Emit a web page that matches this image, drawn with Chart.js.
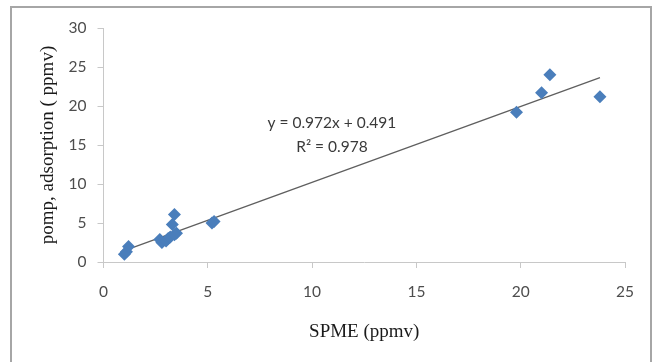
<!DOCTYPE html>
<html>
<head>
<meta charset="utf-8">
<script src="https://cdn.jsdelivr.net/npm/chart.js@4.4.1/dist/chart.umd.min.js"></script>
<style>
html,body{margin:0;padding:0;background:#fff;}
#wrap{position:relative;width:655px;height:362px;}
canvas{display:block;}
</style>
</head>
<body>
<div id="wrap"><canvas id="c" width="655" height="362"></canvas></div>
<script>
// ---- data ----
const spme = [1.0, 1.1, 1.2, 2.7, 2.8, 3.0, 3.1, 3.2, 3.3, 3.4, 3.5, 3.4, 5.2, 5.3, 19.8, 21.0, 21.4, 23.8];
const pomp = [1.0, 1.3, 2.0, 2.9, 2.5, 2.7, 3.0, 3.2, 4.8, 6.1, 3.7, 3.5, 5.0, 5.2, 19.2, 21.7, 24.0, 21.2];
const trendSlope = 0.972;
const trendIntercept = 0.491;
const equationLines = ["y = 0.972x + 0.491", "R\u00B2 = 0.978"];
const xTitle = "SPME (ppmv)";
const yTitle = "pomp, adsorption ( ppmv)";

const points = spme.map((x, i) => ({x: x, y: pomp[i]}));
const xMin = Math.min(...spme), xMax = Math.max(...spme);
const trend = [xMin, xMax].map(x => ({x: x, y: trendSlope * x + trendIntercept}));

const frame = {
  id: 'frame',
  beforeDraw(chart) {
    const ctx = chart.ctx;
    ctx.save();
    ctx.strokeStyle = '#a6a6a6';
    ctx.lineWidth = 2;
    ctx.beginPath();
    ctx.moveTo(11, 362);
    ctx.lineTo(11, 7);
    ctx.lineTo(651, 7);
    ctx.lineTo(651, 362);
    ctx.stroke();
    ctx.restore();
  }
};

const eqLabel = {
  id: 'eqLabel',
  afterDatasetsDraw(chart) {
    const ctx = chart.ctx;
    const xs = chart.scales.x, ys = chart.scales.y;
    const cx = xs.getPixelForValue(10.95);
    const cy = ys.getPixelForValue(17.8);
    ctx.save();
    ctx.fillStyle = '#3a3a3a';
    ctx.font = '15.5px Lato, "Open Sans", sans-serif';
    ctx.textAlign = 'center';
    ctx.textBaseline = 'middle';
    ctx.fillText(equationLines[0], cx, cy);
    ctx.fillText(equationLines[1], cx, cy + 24);
    ctx.restore();
  }
};

new Chart(document.getElementById('c'), {
  type: 'scatter',
  data: {
    datasets: [
      {
        type: 'line',
        data: trend,
        borderColor: '#5f5f5f',
        borderWidth: 1.3,
        pointRadius: 0,
        fill: false,
        order: 2
      },
      {
        data: points,
        pointStyle: 'rectRot',
        pointRadius: 6.5,
        pointHoverRadius: 6.5,
        backgroundColor: '#4a7ebb',
        borderColor: '#4a7ebb',
        borderWidth: 0,
        order: 1
      }
    ]
  },
  options: {
    responsive: false,
    animation: false,
    events: [],
    layout: {padding: {left: 0, right: 30, top: 28, bottom: 0}},
    plugins: {legend: {display: false}, tooltip: {enabled: false}},
    scales: {
      x: {
        type: 'linear',
        min: 0, max: 25,
        ticks: {stepSize: 5, padding: 15, color: '#4d4d4d', font: {family: 'Lato, "Open Sans", sans-serif', size: 15.5}},
        grid: {drawOnChartArea: false, color: '#c8c8c8', tickLength: 6, tickColor: '#c8c8c8'},
        border: {color: '#c8c8c8', width: 1},
        title: {display: true, text: xTitle, color: '#1a1a1a', font: {family: '"Liberation Serif", "Times New Roman", serif', size: 19}, padding: {top: 0, bottom: 18.5}},
        afterFit(s) { s.height = 100; }
      },
      y: {
        type: 'linear',
        min: 0, max: 30,
        ticks: {stepSize: 5, padding: 11, color: '#4d4d4d', font: {family: 'Lato, "Open Sans", sans-serif', size: 15.5}},
        grid: {drawOnChartArea: false, color: '#c8c8c8', tickLength: 6, tickColor: '#c8c8c8'},
        border: {color: '#c8c8c8', width: 1},
        title: {display: true, text: yTitle, color: '#1a1a1a', font: {family: '"Liberation Serif", "Times New Roman", serif', size: 19}, padding: {top: 36.5, bottom: 0}},
        afterFit(s) { s.width = 103.5; }
      }
    }
  },
  plugins: [frame, eqLabel]
});
</script>
</body>
</html>
